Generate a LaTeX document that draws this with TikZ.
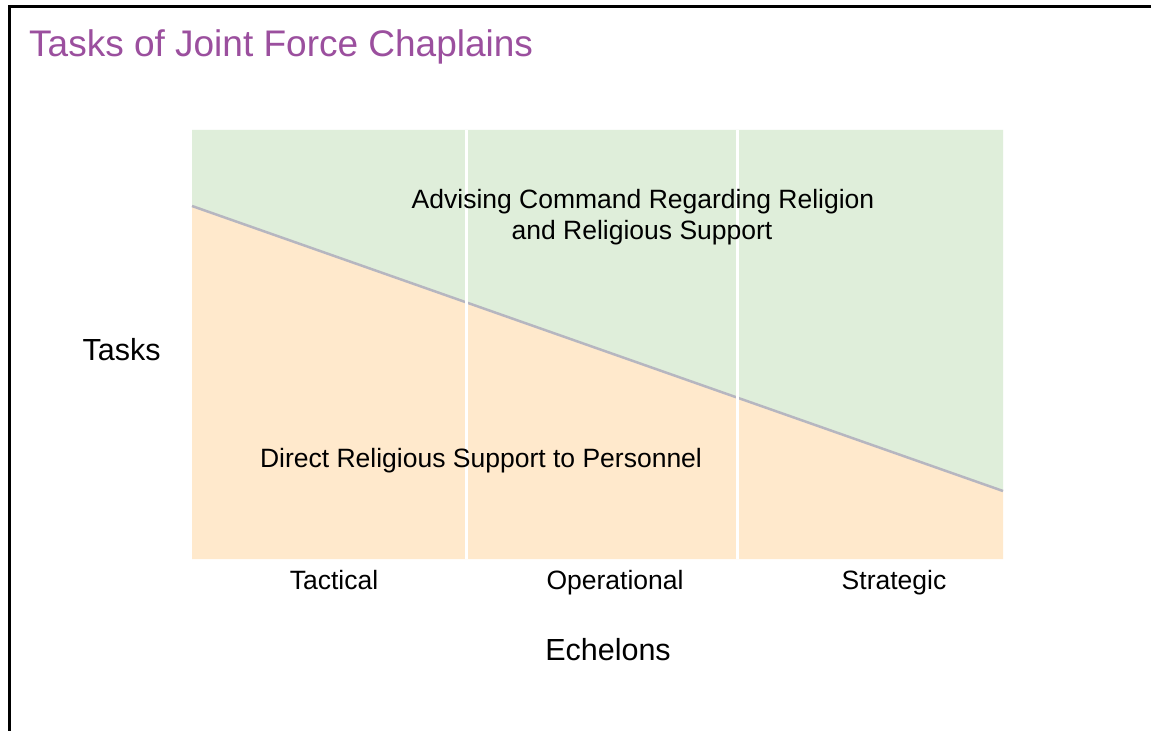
\documentclass[tikz,border=0pt]{standalone}
\usepackage{fontspec}
\setmainfont{Liberation Sans}
\definecolor{titlepurple}{RGB}{155,79,158}
\definecolor{zonegreen}{RGB}{223,238,218}
\definecolor{zoneorange}{RGB}{255,233,204}
\definecolor{splitgray}{RGB}{182,182,192}
\tikzset{
  bodytext/.style={font=\fontsize{26.5bp}{30.5bp}\selectfont, inner sep=0pt, text=black},
  axistext/.style={font=\fontsize{30.5bp}{34bp}\selectfont, inner sep=0pt, text=black},
  titletext/.style={font=\fontsize{37bp}{42bp}\selectfont, inner sep=0pt, text=titlepurple},
  divider/.style={draw=white, line width=3bp},
}
\begin{document}
\begin{tikzpicture}[x=1bp, y=-1bp]
\useasboundingbox (0,0) rectangle (1151,731);
\fill[white] (0,0) rectangle (1151,731);
% frame (left and top)
\draw[line width=2.5bp, black] (9.3,731) -- (9.3,6.3) -- (1151,6.3);
% plot region corners
\coordinate (tl) at (192,130);
\coordinate (tr) at (1003,130);
\coordinate (bl) at (192,559);
\coordinate (br) at (1003,559);
\coordinate (sl) at (192,206);
\coordinate (sr) at (1003,491);
\fill[zonegreen] (tl) -- (tr) -- (sr) -- (sl) -- cycle;
\fill[zoneorange] (sl) -- (sr) -- (br) -- (bl) -- cycle;
\draw[splitgray, line width=2.5bp] (sl) -- (sr);
% column dividers
\coordinate (d1t) at (466,130);
\coordinate (d1b) at (466,559);
\coordinate (d2t) at (737,130);
\coordinate (d2b) at (737,559);
\draw[divider] (d1t) -- (d1b);
\draw[divider] (d2t) -- (d2b);
% texts
\node[titletext, anchor=base west] (title) at (29,57) {Tasks of Joint Force Chaplains};
\node[bodytext, anchor=base] (adv1) at (643,209) {Advising Command Regarding Religion};
\node[bodytext, anchor=base] (adv2) at (642,239) {and Religious Support};
\node[bodytext, anchor=base] (direct) at (481,467) {Direct Religious Support to Personnel};
\node[axistext, anchor=base] (tasks) at (121.5,360) {Tasks};
\node[bodytext, anchor=base] (tac) at (334,589) {Tactical};
\node[bodytext, anchor=base] (ope) at (615,589) {Operational};
\node[bodytext, anchor=base] (str) at (894,589) {Strategic};
\node[axistext, anchor=base] (ech) at (608,660) {Echelons};
\end{tikzpicture}
\end{document}
